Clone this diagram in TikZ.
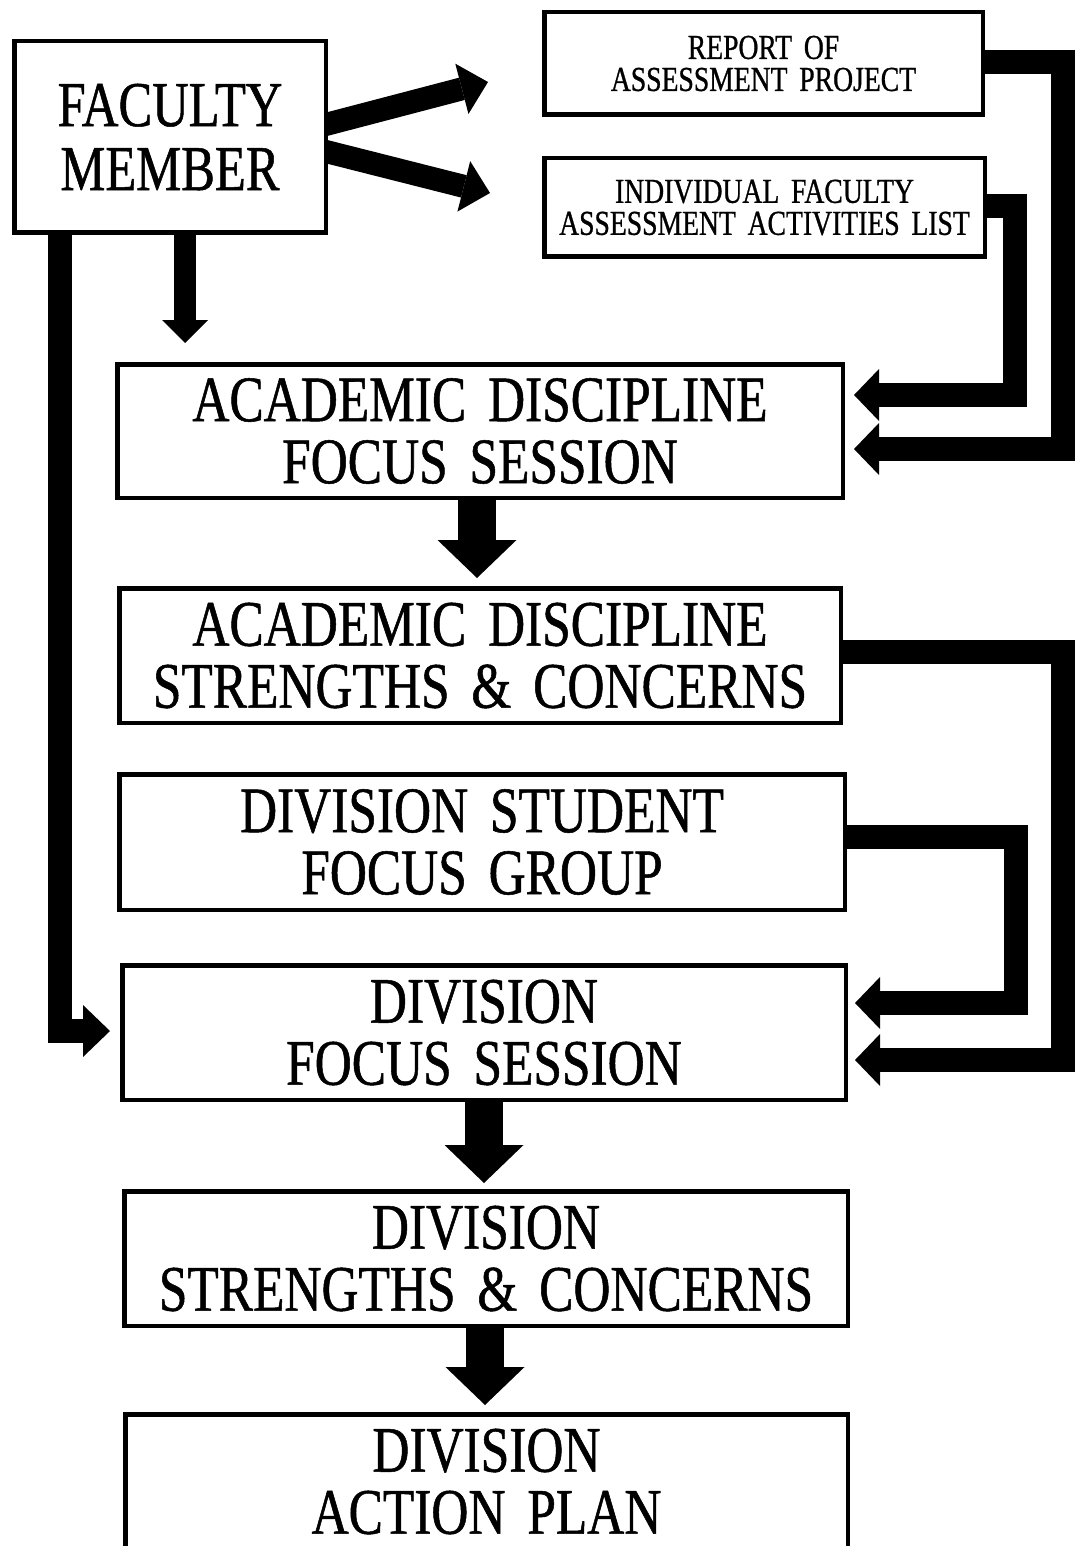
\documentclass[tikz,border=0pt]{standalone}
\usepackage{fontspec}
\setmainfont[FakeStretch=0.79,FakeBold=0.8,WordSpace=1.7]{Liberation Serif}
\usetikzlibrary{arrows.meta,calc}
\pgfdeclarelayer{bg}
\pgfsetlayers{bg,main}
\begin{document}
\begin{tikzpicture}[x=1pt,y=-1pt,
  box/.style={draw, line width=4.5pt, fill=white, inner sep=0pt, align=center, anchor=center},
  bigtext/.style={font=\fontsize{65}{62}\selectfont},
  factext/.style={font=\fontsize{64}{64}\selectfont},
  smalltext/.style={font=\fontsize{35}{32}\selectfont},
  flow/.style={line width=24pt, line join=miter, line cap=butt,
    -{Triangle[length=25pt,width=52pt,line width=0pt]}},
  diag/.style={line width=23pt, line cap=butt,
    -{Triangle[length=27pt,width=52pt,line width=0pt]}},
  thinarrow/.style={line width=22pt, line cap=butt,
    -{Triangle[length=23pt,width=46pt,line width=0pt]}},
  fatarrow/.style={line width=38pt, line cap=butt,
    -{Triangle[length=38pt,width=79pt,line width=0pt]}}
]
\useasboundingbox (0,0) rectangle (1075,1546);

% boxes
\node[box, factext, minimum width=311.5pt, minimum height=191.5pt] (fac) at (170,137) {FACULTY\\MEMBER};
\node[box, smalltext, minimum width=438.5pt, minimum height=102.5pt] (rep) at (763.5,63.5) {REPORT OF\\ASSESSMENT PROJECT};
\node[box, smalltext, minimum width=440.5pt, minimum height=98.5pt] (ind) at (764.5,207.5) {INDIVIDUAL FACULTY\\ASSESSMENT ACTIVITIES LIST};
\node[box, bigtext, minimum width=725.5pt, minimum height=133.5pt] (afs) at (480,431) {ACADEMIC DISCIPLINE\\FOCUS SESSION};
\node[box, bigtext, minimum width=721.5pt, minimum height=134.5pt] (asc) at (480,655.5) {ACADEMIC DISCIPLINE\\STRENGTHS \& CONCERNS};
\node[box, bigtext, minimum width=725.5pt, minimum height=135.5pt] (dsf) at (482,842) {DIVISION STUDENT\\FOCUS GROUP};
\node[box, bigtext, minimum width=723.5pt, minimum height=134.5pt] (dfs) at (484,1032.5) {DIVISION\\FOCUS SESSION};
\node[box, bigtext, minimum width=723.5pt, minimum height=134.5pt] (dsc) at (486,1258.5) {DIVISION\\STRENGTHS \& CONCERNS};
\node[box, bigtext, minimum width=722.5pt, minimum height=134.5pt] (dap) at (486.5,1481.5) {DIVISION\\ACTION PLAN};

% connectors
\coordinate (t1) at (488,82);
\coordinate (t2) at (490,193);
\coordinate (t3) at (185,343);
\coordinate (c4) at (60,1031);
\coordinate (t4) at (110,1031);
\coordinate (k1) at (1063,62);
\coordinate (k2) at (1063,449);
\coordinate (k3) at (1015,206);
\coordinate (k4) at (1015,395);
\coordinate (k5) at (1063,652);
\coordinate (k6) at (1063,1060);
\coordinate (k7) at (1016,837);
\coordinate (k8) at (1016,1003);

\begin{pgfonlayer}{bg}
  \fill[white] (0,0) rectangle (1075,1546);
  \draw[diag] ([xshift=-8pt,yshift=11pt]fac.east) -- (t1);
  \draw[diag] ([xshift=-8pt,yshift=-13pt]fac.east) -- (t2);
  \draw[thinarrow] (fac.south -| t3) -- (t3);
  \draw[flow, -{Triangle[length=27pt,width=52pt,line width=0pt]}] (fac.south -| c4) -- (c4) -- (t4);
  \draw[flow] (rep.east |- k1) -- (k1) -- (k2) -- ($(afs.east |- k2)+(9,0)$);
  \draw[flow] (ind.east |- k3) -- (k3) -- (k4) -- ($(afs.east |- k4)+(9,0)$);
  \draw[fatarrow] ($(afs.south)+(-3,0)$) -- ($(afs.south |- asc.north)+(-3,-8)$);
  \draw[flow] (asc.east |- k5) -- (k5) -- (k6) -- ($(dfs.east |- k6)+(7,0)$);
  \draw[flow] (dsf.east |- k7) -- (k7) -- (k8) -- ($(dfs.east |- k8)+(7,0)$);
  \draw[fatarrow] (dfs.south) -- ($(dfs.south |- dsc.north)+(0,-6)$);
  \draw[fatarrow] ($(dsc.south)+(-1,0)$) -- ($(dsc.south |- dap.north)+(-1,-7)$);
\end{pgfonlayer}
\end{tikzpicture}
\end{document}
